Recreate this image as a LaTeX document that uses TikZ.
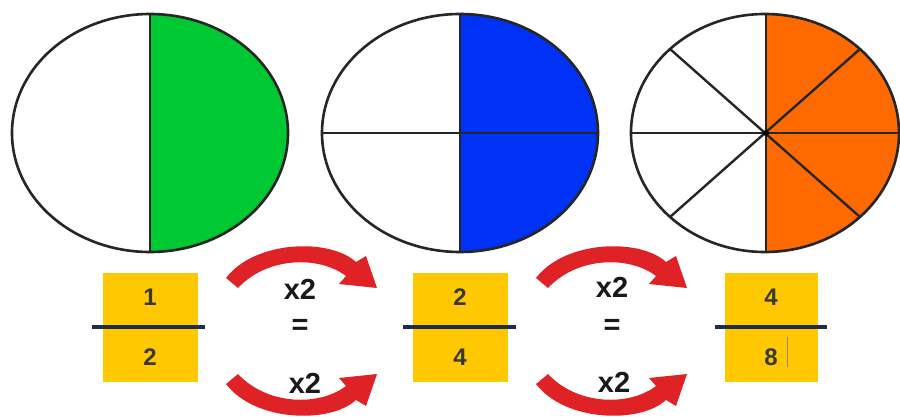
\documentclass[tikz,border=0pt]{standalone}
\usepackage{fontspec}
\setmainfont{Liberation Sans}
\begin{document}
\begin{tikzpicture}[x=1pt,y=-1pt,
  rim/.style={draw=black!85,line width=2.6pt},
  seg/.style={draw=black!85,line width=2.4pt},
  fbox/.style={fill=fracyellow,minimum width=95pt,minimum height=109pt,inner sep=0pt},
  fnum/.style={font=\bfseries\fontsize{24}{24}\selectfont,text=black!78},
  fline/.style={draw=fracline,line width=3.5pt},
  opx/.style={font=\bfseries\fontsize{29}{29}\selectfont,text=black!90},
  redarr/.style={fill=arrred}]
\definecolor{fracyellow}{RGB}{255,200,0}
\definecolor{fracline}{RGB}{30,45,75}
\definecolor{arrred}{RGB}{222,34,38}
\definecolor{pgreen}{RGB}{0,200,50}
\definecolor{pblue}{RGB}{0,50,245}
\definecolor{porange}{RGB}{255,106,0}
\useasboundingbox[fill=white] (0,0) rectangle (900,417);
% ellipse 1
\begin{scope}
  \clip (150,0) rectangle (320,260);
  \fill[pgreen] (150,133) ellipse [x radius=138pt,y radius=119pt];
\end{scope}
\draw[rim] (150,133) ellipse [x radius=138pt,y radius=119pt];
\draw[seg] (150,14) -- (150,252);
% ellipse 2
\begin{scope}
  \clip (460,0) rectangle (620,260);
  \fill[pblue] (460,133) ellipse [x radius=138pt,y radius=119pt];
\end{scope}
\draw[rim] (460,133) ellipse [x radius=138pt,y radius=119pt];
\draw[seg] (460,14) -- (460,252);
\draw[seg] (322,133) -- (598,133);
% ellipse 3
\begin{scope}
  \clip (766,0) rectangle (900,260);
  \fill[porange] (765,133) ellipse [x radius=134pt,y radius=119pt];
\end{scope}
\draw[rim] (765,133) ellipse [x radius=134pt,y radius=119pt];
\draw[seg] (766,14) -- (766,252);
\draw[seg] (631,133) -- (899,133);
\draw[seg] (670,49) -- (860,217);
\draw[seg] (670,217) -- (860,49);
\fill[black] (766,133) circle (3pt);
% fractions
\node[fbox] (f1) at (150,327.5) {};
\node[fnum] (n1) at (150,297) {1};
\node[fnum] (d1) at (150,357) {2};
\draw[fline] (92,327) -- (205,327);
\node[fbox] (f2) at (460,327.5) {};
\node[fnum] (n2) at (460,297) {2};
\node[fnum] (d2) at (460,357) {4};
\draw[fline] (403,327) -- (516,327);
\node[fbox,minimum width=93pt] (f3) at (771,327.5) {};
\node[fnum] (n3) at (771,297) {4};
\node[fnum] (d3) at (771,357) {8};
\draw[fline] (715,327) -- (827,327);
\draw[black!45,line width=0.6pt] (787,337) -- (787,367);
% arrows
\newcommand\myarrow{%
  \fill[redarr] (226,278) .. controls (255,240) and (330,238) .. (356,262)
     -- (366,256) -- (377,288) -- (339,284) -- (346,276)
     .. controls (320,256) and (268,256) .. (238,288) -- cycle;}
\foreach \dx in {0,310}{
  \begin{scope}[xshift=\dx]
    \myarrow
  \end{scope}
  \begin{scope}[xshift=\dx,shift={(0,662)},yscale=-1]
    \myarrow
  \end{scope}
}
\node[opx] (t1) at (300,289) {x2};
\node[opx] (e1) at (300,327) {=};
\node[opx] (b1) at (305,383) {x2};
\node[opx] (t2) at (612,287) {x2};
\node[opx] (e2) at (612,327) {=};
\node[opx] (b2) at (614,382) {x2};
\end{tikzpicture}
\end{document}
